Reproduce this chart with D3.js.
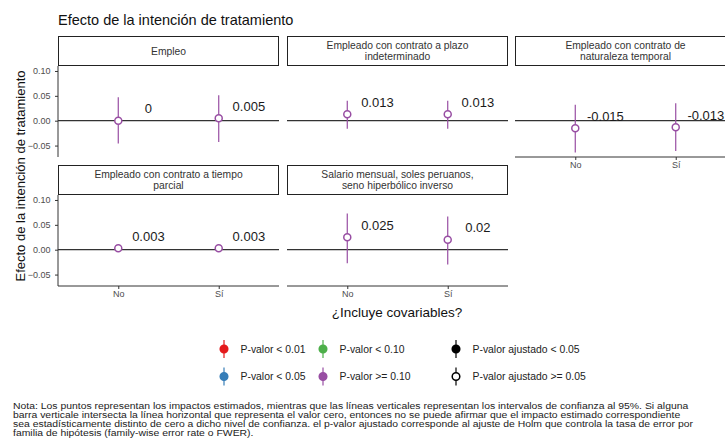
<!DOCTYPE html>
<html>
<head>
<meta charset="utf-8">
<script src="https://cdn.jsdelivr.net/npm/d3@7"></script>
<style>
  body { margin: 0; background: #fff; }
  text { font-family: "Liberation Sans", Arial, sans-serif; }
</style>
</head>
<body>
<div id="chart"></div>
<script>
// data
var outcomes = [
  ["Empleo"],
  ["Empleado con contrato a plazo", "indeterminado"],
  ["Empleado con contrato de", "naturaleza temporal"],
  ["Empleado con contrato a tiempo", "parcial"],
  ["Salario mensual, soles peruanos,", "seno hiperbólico inverso"]
];
var covariates = ["No", "Sí"];
var estimates = [[0, 0.005], [0.013, 0.013], [-0.015, -0.013], [0.003, 0.003], [0.025, 0.02]];
var ciLow  = [[-0.046, -0.043], [-0.016, -0.016], [-0.064, -0.061], [0.0, 0.0], [-0.027, -0.030]];
var ciHigh = [[0.047, 0.051], [0.040, 0.040], [0.032, 0.035], [0.006, 0.006], [0.073, 0.067]];
var yTicks = [-0.05, 0, 0.05, 0.10];

var legendItems = [
  { label: "P-valor < 0.01", color: "#E41A1C", open: false },
  { label: "P-valor < 0.05", color: "#377EB8", open: false },
  { label: "P-valor < 0.10", color: "#4DAF4A", open: false },
  { label: "P-valor >= 0.10", color: "#984EA3", open: false },
  { label: "P-valor ajustado < 0.05", color: "#000", open: false },
  { label: "P-valor ajustado >= 0.05", color: "#000", open: true }
];

var note = [
  "Nota: Los puntos representan los impactos estimados, mientras que las líneas verticales representan los intervalos de confianza al 95%. Si alguna",
  "barra verticale intersecta la línea horizontal que representa el valor cero, entonces no se puede afirmar que el impacto estimado correspondiente",
  "sea estadísticamente distinto de cero a dicho nivel de confianza. el p-valor ajustado corresponde al ajuste de Holm que controla la tasa de error por",
  "familia de hipótesis (family-wise error rate o FWER)."
];

var WD = 725, HT = 443;
var colX = [58, 287, 515], panelW = 221;
var rowY = [36, 165], stripH = 30, panelH = 91;
var purple = "#984EA3";

var svg = d3.select("#chart").append("svg")
  .attr("width", WD).attr("height", HT);

var x = d3.scalePoint().domain(covariates).range([0, panelW]).padding(0.6);
var y = d3.scaleLinear().domain([-0.073, 0.11]).range([panelH, 0]);

// title
svg.append("text").attr("x", 58).attr("y", 25)
  .style("font-size", "14.5px").attr("fill", "#111")
  .text("Efecto de la intención de tratamiento");

outcomes.forEach(function(lines, i) {
  var col = i % 3, row = Math.floor(i / 3);
  var g = svg.append("g")
    .attr("transform", "translate(" + colX[col] + "," + rowY[row] + ")");

  // strip
  g.append("rect").attr("x", 0.5).attr("y", 0.5)
    .attr("width", panelW - 1).attr("height", stripH - 1)
    .attr("fill", "#fff").attr("stroke", "#222").attr("stroke-width", 1);
  var st = g.append("text").attr("text-anchor", "middle")
    .style("font-size", "10.3px").attr("fill", "#333");
  lines.forEach(function(l, k) {
    st.append("tspan").attr("x", panelW / 2)
      .attr("y", stripH / 2 + 3.7 + (k - (lines.length - 1) / 2) * 11)
      .text(l);
  });

  var p = g.append("g").attr("transform", "translate(0," + stripH + ")");

  // zero line
  p.append("line").attr("x1", 0).attr("x2", panelW)
    .attr("y1", y(0)).attr("y2", y(0))
    .attr("stroke", "#333").attr("stroke-width", 1.2);

  // left axis for first column
  if (col === 0) {
    var ya = p.append("g").call(d3.axisLeft(y).tickValues(yTicks)
      .tickFormat(d3.format(".2f")).tickSize(3).tickPadding(4.5));
    ya.select(".domain").attr("stroke", "#333").attr("d", "M0,0V" + panelH);
    ya.selectAll(".tick line").attr("stroke", "#333");
    ya.selectAll(".tick text").attr("fill", "#4d4d4d")
      .style("font-size", "9px").style("font-family", "Liberation Sans, Arial, sans-serif");
  }

  // bottom axis where nothing sits below
  if (row === 1 || col === 2) {
    var xa = p.append("g").attr("transform", "translate(0," + panelH + ")")
      .call(d3.axisBottom(x).tickSize(3).tickPadding(2));
    xa.select(".domain").attr("stroke", "#333").attr("d", "M0,0H" + panelW);
    xa.selectAll(".tick line").attr("stroke", "#333");
    xa.selectAll(".tick text").attr("fill", "#4d4d4d")
      .style("font-size", "9px").style("font-family", "Liberation Sans, Arial, sans-serif");
  }

  covariates.forEach(function(c, j) {
    var cx = x(c);
    p.append("line").attr("x1", cx).attr("x2", cx)
      .attr("y1", y(ciLow[i][j])).attr("y2", y(ciHigh[i][j]))
      .attr("stroke", purple).attr("stroke-width", 1.2);
    p.append("circle").attr("cx", cx).attr("cy", y(estimates[i][j]))
      .attr("r", 3.5).attr("fill", "#fff")
      .attr("stroke", purple).attr("stroke-width", 1.5);
    p.append("text").attr("x", cx + x.step() * 0.3)
      .attr("y", y(estimates[i][j] + 0.025) + 5)
      .attr("text-anchor", "middle").style("font-size", "13px").attr("fill", "#1a1a1a")
      .text(String(estimates[i][j]));
  });
});

// axis titles, centred on the whole panel area
var plotTop = rowY[0] + stripH, plotBottom = rowY[1] + stripH + panelH;
svg.append("text")
  .attr("transform", "translate(24.5," + ((plotTop + plotBottom) / 2) + ") rotate(-90)")
  .attr("text-anchor", "middle").style("font-size", "13px").attr("fill", "#111")
  .text("Efecto de la intención de tratamiento");

svg.append("text")
  .attr("x", (colX[0] + colX[2] + panelW) / 2).attr("y", 317)
  .attr("text-anchor", "middle").style("font-size", "13.5px").attr("fill", "#111")
  .text("¿Incluye covariables?");

// legend
var legX = [224, 323, 456], legY = [349, 376.5];
legendItems.forEach(function(d, i) {
  var lx = legX[Math.floor(i / 2)], ly = legY[i % 2];
  var lg = svg.append("g").attr("transform", "translate(" + lx + "," + ly + ")");
  lg.append("line").attr("y1", -9).attr("y2", 9)
    .attr("stroke", d.color).attr("stroke-width", 1.2);
  lg.append("circle").attr("r", 3.8)
    .attr("fill", d.open ? "#fff" : d.color)
    .attr("stroke", d.color).attr("stroke-width", 1.5);
  lg.append("text").attr("x", 16.5).attr("y", 3.8)
    .style("font-size", "10.4px").attr("fill", "#222").text(d.label);
});

// note: the caption in the picture is wide but short, so stretch it sideways
svg.append("g").attr("transform", "translate(13,0) scale(1.12,1)")
  .selectAll("text").data(note).enter().append("text")
  .attr("x", 0).attr("y", function(d, i) { return 408.5 + i * 9.3; })
  .style("font-size", "9.3px").attr("fill", "#222")
  .text(function(d) { return d; });
</script>
</body>
</html>
